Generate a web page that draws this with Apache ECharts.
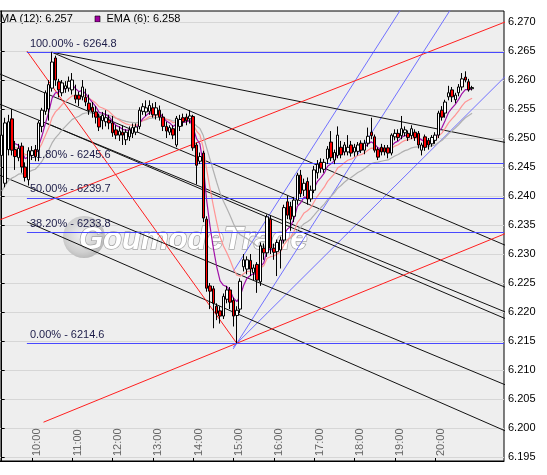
<!DOCTYPE html>
<html>
<head>
<meta charset="utf-8">
<title>5 min chart with EMA and Fibonacci levels</title>
<script src="https://cdn.jsdelivr.net/npm/echarts@6.0.0/dist/echarts.min.js"></script>
<style>
  html, body { margin: 0; padding: 0; background: #fff; }
  #main { width: 547px; height: 475px; }
</style>
</head>
<body>
<div id="main"></div>
<script>
// 5 minute bars, the first slot is 09:15, the last slots of the axis stay empty
const firstBar = '09:15';
const slotCount = 150;
const hourLabels = ['10:00', '11:00', '12:00', '13:00', '14:00', '15:00', '16:00', '17:00', '18:00', '19:00', '20:00'];
const priceTicks = [6.195, 6.200, 6.205, 6.210, 6.215, 6.220, 6.225, 6.230, 6.235, 6.240, 6.245, 6.250, 6.255, 6.260, 6.265, 6.270];

// [open, close, low, high]
const ohlc = [
  [6.2470, 6.2505, 6.2462, 6.2512], [6.2422, 6.2526, 6.2415, 6.2535], [6.2480, 6.2528, 6.2470, 6.2540],
  [6.2533, 6.2479, 6.2470, 6.2550], [6.2480, 6.2468, 6.2445, 6.2495], [6.2466, 6.2482, 6.2460, 6.2490],
  [6.2486, 6.2450, 6.2440, 6.2492], [6.2450, 6.2432, 6.2425, 6.2458], [6.2428, 6.2478, 6.2418, 6.2484],
  [6.2470, 6.2478, 6.2462, 6.2486], [6.2480, 6.2468, 6.2460, 6.2488], [6.2479, 6.2526, 6.2460, 6.2530],
  [6.2520, 6.2548, 6.2510, 6.2552], [6.2546, 6.2578, 6.2540, 6.2582], [6.2550, 6.2592, 6.2530, 6.2600],
  [6.2586, 6.2631, 6.2580, 6.2648], [6.2638, 6.2600, 6.2590, 6.2642], [6.2597, 6.2583, 6.2570, 6.2602],
  [6.2578, 6.2595, 6.2572, 6.2600], [6.2585, 6.2590, 6.2578, 6.2598], [6.2586, 6.2598, 6.2580, 6.2606],
  [6.2583, 6.2600, 6.2575, 6.2612], [6.2574, 6.2567, 6.2560, 6.2592], [6.2574, 6.2567, 6.2555, 6.2580],
  [6.2571, 6.2588, 6.2565, 6.2600], [6.2570, 6.2562, 6.2555, 6.2585], [6.2560, 6.2548, 6.2540, 6.2575],
  [6.2553, 6.2545, 6.2535, 6.2562], [6.2545, 6.2536, 6.2525, 6.2555], [6.2536, 6.2519, 6.2512, 6.2542],
  [6.2530, 6.2539, 6.2515, 6.2545], [6.2528, 6.2535, 6.2520, 6.2548], [6.2531, 6.2526, 6.2515, 6.2540],
  [6.2526, 6.2509, 6.2502, 6.2538], [6.2514, 6.2505, 6.2498, 6.2522], [6.2505, 6.2512, 6.2495, 6.2520],
  [6.2510, 6.2505, 6.2488, 6.2522], [6.2497, 6.2510, 6.2488, 6.2515], [6.2502, 6.2514, 6.2495, 6.2520],
  [6.2508, 6.2518, 6.2500, 6.2525], [6.2510, 6.2519, 6.2505, 6.2525], [6.2520, 6.2548, 6.2515, 6.2553],
  [6.2546, 6.2554, 6.2540, 6.2560], [6.2545, 6.2552, 6.2538, 6.2565], [6.2546, 6.2556, 6.2540, 6.2565],
  [6.2552, 6.2540, 6.2535, 6.2560], [6.2540, 6.2552, 6.2532, 6.2562], [6.2548, 6.2536, 6.2530, 6.2556],
  [6.2536, 6.2520, 6.2512, 6.2542], [6.2520, 6.2512, 6.2500, 6.2528], [6.2510, 6.2518, 6.2505, 6.2522],
  [6.2516, 6.2505, 6.2498, 6.2522], [6.2488, 6.2534, 6.2484, 6.2538], [6.2520, 6.2532, 6.2512, 6.2540],
  [6.2535, 6.2528, 6.2520, 6.2542], [6.2536, 6.2530, 6.2522, 6.2542], [6.2533, 6.2538, 6.2525, 6.2548],
  [6.2537, 6.2483, 6.2478, 6.2540], [6.2488, 6.2453, 6.2420, 6.2492], [6.2460, 6.2468, 6.2455, 6.2475],
  [6.2474, 6.2362, 6.2355, 6.2478], [6.2360, 6.2241, 6.2235, 6.2365], [6.2245, 6.2236, 6.2205, 6.2250],
  [6.2240, 6.2215, 6.2172, 6.2245], [6.2210, 6.2198, 6.2186, 6.2215], [6.2202, 6.2193, 6.2180, 6.2210],
  [6.2193, 6.2227, 6.2188, 6.2232], [6.2222, 6.2238, 6.2215, 6.2245], [6.2238, 6.2217, 6.2205, 6.2243],
  [6.2220, 6.2193, 6.2175, 6.2225], [6.2194, 6.2203, 6.2146, 6.2210], [6.2205, 6.2253, 6.2198, 6.2258],
  [6.2278, 6.2290, 6.2270, 6.2300], [6.2274, 6.2290, 6.2265, 6.2296], [6.2289, 6.2274, 6.2262, 6.2300],
  [6.2268, 6.2276, 6.2255, 6.2282], [6.2282, 6.2255, 6.2233, 6.2286], [6.2252, 6.2314, 6.2245, 6.2320],
  [6.2310, 6.2302, 6.2290, 6.2318], [6.2302, 6.2364, 6.2295, 6.2368], [6.2360, 6.2310, 6.2300, 6.2366],
  [6.2310, 6.2303, 6.2290, 6.2318], [6.2304, 6.2320, 6.2262, 6.2325], [6.2307, 6.2324, 6.2275, 6.2330],
  [6.2324, 6.2380, 6.2318, 6.2385], [6.2390, 6.2367, 6.2360, 6.2400], [6.2382, 6.2360, 6.2340, 6.2390],
  [6.2365, 6.2393, 6.2355, 6.2398], [6.2393, 6.2436, 6.2385, 6.2440], [6.2436, 6.2404, 6.2398, 6.2445],
  [6.2410, 6.2422, 6.2400, 6.2430], [6.2425, 6.2395, 6.2385, 6.2432], [6.2395, 6.2410, 6.2390, 6.2418],
  [6.2410, 6.2445, 6.2405, 6.2452], [6.2440, 6.2455, 6.2430, 6.2462], [6.2458, 6.2448, 6.2440, 6.2465],
  [6.2446, 6.2458, 6.2440, 6.2464], [6.2464, 6.2481, 6.2455, 6.2486], [6.2493, 6.2466, 6.2460, 6.2512],
  [6.2462, 6.2475, 6.2455, 6.2480], [6.2470, 6.2505, 6.2465, 6.2520], [6.2484, 6.2471, 6.2465, 6.2495],
  [6.2476, 6.2488, 6.2470, 6.2493], [6.2476, 6.2484, 6.2470, 6.2505], [6.2488, 6.2474, 6.2468, 6.2495],
  [6.2476, 6.2484, 6.2468, 6.2490], [6.2477, 6.2488, 6.2470, 6.2493], [6.2491, 6.2479, 6.2474, 6.2496],
  [6.2479, 6.2491, 6.2472, 6.2497], [6.2491, 6.2503, 6.2485, 6.2518], [6.2510, 6.2504, 6.2498, 6.2535],
  [6.2502, 6.2479, 6.2475, 6.2506], [6.2480, 6.2467, 6.2462, 6.2484], [6.2484, 6.2476, 6.2470, 6.2490],
  [6.2483, 6.2476, 6.2470, 6.2488], [6.2483, 6.2474, 6.2465, 6.2488], [6.2474, 6.2505, 6.2470, 6.2508],
  [6.2502, 6.2508, 6.2496, 6.2515], [6.2508, 6.2501, 6.2495, 6.2515], [6.2504, 6.2516, 6.2498, 6.2538],
  [6.2509, 6.2514, 6.2503, 6.2520], [6.2508, 6.2501, 6.2495, 6.2513], [6.2504, 6.2516, 6.2498, 6.2522],
  [6.2510, 6.2501, 6.2495, 6.2515], [6.2508, 6.2488, 6.2482, 6.2512], [6.2479, 6.2488, 6.2470, 6.2492],
  [6.2502, 6.2484, 6.2478, 6.2506], [6.2496, 6.2488, 6.2480, 6.2500], [6.2490, 6.2501, 6.2485, 6.2505],
  [6.2496, 6.2505, 6.2490, 6.2510], [6.2505, 6.2543, 6.2500, 6.2547], [6.2548, 6.2536, 6.2530, 6.2555],
  [6.2543, 6.2562, 6.2535, 6.2566], [6.2571, 6.2578, 6.2565, 6.2590], [6.2583, 6.2571, 6.2562, 6.2588],
  [6.2566, 6.2574, 6.2560, 6.2578], [6.2578, 6.2588, 6.2572, 6.2593], [6.2588, 6.2602, 6.2582, 6.2612],
  [6.2605, 6.2600, 6.2596, 6.2615], [6.2597, 6.2583, 6.2580, 6.2602], [6.2585, 6.2587, 6.2582, 6.2590]
];

// moving averages shown on the chart: period, value before the first bar, colour
const emaPeriods = [24, 12, 6];
const emaStart = [6.2400, 6.2465, 6.2480];
const emaColors = ['#b0b0b0', '#ff9494', '#a010a8'];

// fibonacci retracement drawn from the 14:05 low to the 10:30 high
const fibLevels = [6.2648, 6.2456, 6.2397, 6.2338, 6.2146];
const fibNames = ['100.00% - 6264.8', '61.80% - 6245.6', '50.00% - 6239.7', '38.20% - 6233.8', '0.00% - 6214.6'];
const fibFrom = 7.5; // bar index where the levels start

// hand drawn lines: [bar index, price, bar index, price]
const blackLines = [
  [14.9, 6.2648, 149.8, 6.24925],
  [14.9, 6.2648, 149.8, 6.23153],
  [-0.5, 6.26103, 149.8, 6.22428],
  [-0.5, 6.25582, 149.8, 6.22002],
  [13.25, 6.25258, 149.8, 6.21888],
  [7.5, 6.23555, 149.8, 6.19952],
  [-0.5, 6.24357, 149.8, 6.20746]
];
const redLines = [
  [7.5, 6.2650, 69.97, 6.2146],
  [12.45, 6.2010, 149.8, 6.2335],
  [-0.5, 6.2359, 149.8, 6.2700]
];
const fanLines = [
  [68.87, 6.22696, 118.67, 6.27207],
  [68.9, 6.21363, 133.5, 6.27207],
  [68.9, 6.21398, 149.8, 6.26057]
];

const legendTexts = ['MA (12): 6.257', 'EMA (6): 6.258'];
const watermark = 'GoumodeTrade';

const font = 'Liberation Sans';

// time slots of the category axis
const categories = [];
let [hh, mm] = firstBar.split(':').map(Number);
for (let i = 0; i < slotCount; i++) {
  categories.push(String(hh).padStart(2, '0') + ':' + String(mm).padStart(2, '0'));
  mm += 5;
  if (mm === 60) { mm = 0; hh++; }
}

function ema(period, seed) {
  const k = 2 / (period + 1);
  let v = seed;
  return ohlc.map(b => { v += k * (b[1] - v); return +v.toFixed(5); });
}

function toLines(list, color) {
  return list.map(l => ({ coords: [[l[0], l[1]], [l[2], l[3]]], lineStyle: { color: color } }));
}

const isHour = (idx, val) => hourLabels.indexOf(val) >= 0;

const chart = echarts.init(document.getElementById('main'), null, { renderer: 'canvas' });

chart.setOption({
  animation: false,
  backgroundColor: '#ffffff',
  grid: {
    left: -2, right: 43, top: 11, bottom: 14,
    show: true, backgroundColor: '#eeeeee', borderColor: '#000', borderWidth: 1
  },
  xAxis: [{
    type: 'category',
    data: categories,
    boundaryGap: true,
    axisLine: { show: true, onZero: false, lineStyle: { color: '#000' } },
    axisTick: { show: true, inside: true, length: 3, alignWithLabel: true, interval: isHour, lineStyle: { color: '#000' } },
    axisLabel: {
      inside: true, rotate: 90, interval: isHour, margin: 5, verticalAlign: 'top',
      color: '#666', fontSize: 11, fontFamily: font
    },
    splitLine: { show: false }
  }, {
    // same width as the bars, used for the drawn lines
    type: 'value', min: -0.5, max: slotCount - 0.5, show: false
  }],
  yAxis: {
    type: 'value',
    position: 'right',
    min: 6.19431,
    max: 6.2719,
    axisLine: { show: true, lineStyle: { color: '#000' } },
    axisTick: { show: true, length: 3, customValues: priceTicks, lineStyle: { color: '#000' } },
    axisLabel: {
      customValues: priceTicks, formatter: v => v.toFixed(3),
      color: '#000', fontSize: 11, fontFamily: font, margin: 4
    },
    splitLine: { show: true, lineStyle: { color: '#d6d6d6', width: 1 } }
  },
  graphic: [
    {
      type: 'circle', z: 1, silent: true,
      shape: { cx: 84, cy: 237, r: 21 },
      style: {
        fill: new echarts.graphic.RadialGradient(0.45, 0.45, 0.6, [
          { offset: 0, color: '#f0f0f0' }, { offset: 0.7, color: '#cfcfcf' }, { offset: 1, color: '#b4b4b4' }
        ])
      }
    },
    {
      type: 'text', z: 1, silent: true, x: 79, y: 240,
      style: {
        text: watermark, font: 'italic bold 31px "Liberation Sans"',
        fill: '#ffffff', stroke: '#a6a6a6', lineWidth: 1.5,
        verticalAlign: 'middle', textVerticalAlign: 'middle',
        shadowBlur: 1, shadowColor: 'rgba(0,0,0,0.45)', shadowOffsetX: 2, shadowOffsetY: 2
      }
    },
    {
      type: 'text', x: 0, y: 19,
      style: { text: legendTexts[0], font: '11px "Liberation Sans"', fill: '#000', verticalAlign: 'middle', textVerticalAlign: 'middle' }
    },
    {
      type: 'rect', shape: { x: 95, y: 16, width: 5, height: 6 },
      style: { fill: '#a000a0', stroke: '#000', lineWidth: 0.6 }
    },
    {
      type: 'text', x: 106.5, y: 19,
      style: { text: legendTexts[1], font: '11px "Liberation Sans"', fill: '#000', verticalAlign: 'middle', textVerticalAlign: 'middle' }
    }
  ],
  series: [
    {
      type: 'lines',
      coordinateSystem: 'cartesian2d',
      xAxisIndex: 1, yAxisIndex: 0,
      silent: true, clip: true, z: 3,
      lineStyle: { width: 1, opacity: 1 },
      data: toLines(fanLines, '#7070ff').concat(toLines(blackLines, '#111111'), toLines(redLines, '#ff1e1e'))
    },
    {
      type: 'line',
      xAxisIndex: 1, yAxisIndex: 0,
      data: [],
      silent: true, z: 3,
      markLine: {
        silent: true,
        symbol: ['none', 'none'],
        lineStyle: { color: '#4848ff', width: 1, type: 'solid' },
        label: {
          show: true, position: 'insideStartTop', distance: [3, 3],
          color: '#1c1c48', fontSize: 11, fontFamily: font,
          formatter: p => p.name
        },
        emphasis: { disabled: true },
        data: fibLevels.map((lv, i) => [
          { name: fibNames[i], coord: [fibFrom, lv] },
          { coord: [slotCount - 0.5, lv] }
        ])
      }
    }
  ].concat(emaPeriods.map((p, i) => ({
    type: 'line',
    name: 'EMA (' + p + ')',
    data: ema(p, emaStart[i]),
    showSymbol: false,
    symbol: 'none',
    silent: true,
    z: 4,
    lineStyle: { width: 1.2, color: emaColors[i] }
  })), [{
    type: 'candlestick',
    data: ohlc,
    barWidth: 3,
    z: 5,
    silent: true,
    itemStyle: {
      color: '#ffffff', color0: '#ff0000',
      borderColor: '#000000', borderColor0: '#000000', borderWidth: 1
    }
  }])
});
</script>
</body>
</html>
